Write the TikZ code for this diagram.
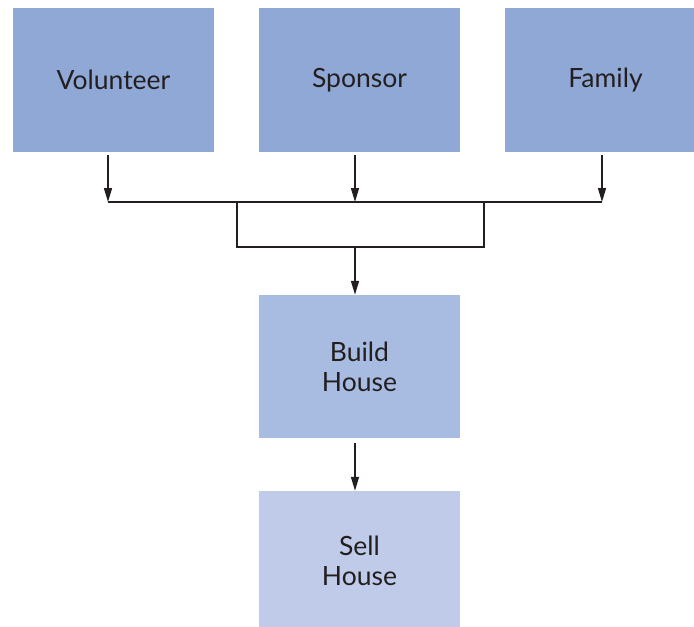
\documentclass[tikz,border=0pt]{standalone}
\usepackage{fontspec}
\setmainfont{Lato}
\usetikzlibrary{arrows.meta}
\definecolor{topblue}{HTML}{8FA8D6}
\definecolor{midblue}{HTML}{A8BCE2}
\definecolor{lowblue}{HTML}{BFCBE8}
\definecolor{ink}{HTML}{231F20}
\tikzset{
  box/.style={draw=none, rectangle, minimum width=201pt, inner sep=0pt, align=center,
    font=\fontsize{26.5}{30}\selectfont, text=ink},
  conn/.style={line width=1.5pt, draw=ink},
  arr/.style={conn, -{Triangle[length=14pt,width=8pt]}}
}
\begin{document}
\begin{tikzpicture}[x=1pt,y=-1pt]
\useasboundingbox (0,0) rectangle (694,627);
\clip (0,0) rectangle (694,627);
\node[box, fill=topblue, minimum height=144pt] (v) at (113.5,80) {\raisebox{1.5pt}{Volunteer}};
\node[box, fill=topblue, minimum height=144pt] (s) at (359.5,80) {\raisebox{1.5pt}{Sponsor}};
\node[box, fill=topblue, minimum height=144pt] (f) at (605.5,80) {\raisebox{1.5pt}{Family}};
\node[box, fill=midblue, minimum height=143pt] (b) at (359.5,366.5) {Build\\House};
\node[box, fill=lowblue, minimum height=140pt] (h) at (359.5,561) {Sell\\House};
\coordinate (jl) at (108,202);
\coordinate (jm) at (355,202);
\coordinate (jr) at (602,202);
\coordinate (ra) at (237,202);
\coordinate (rb) at (484,202);
\coordinate (rc) at (484,247);
\coordinate (rd) at (237,247);
\coordinate (re) at (355,247);
\draw[arr] ([xshift=-5.5pt,yshift=-3pt]v.south) -- (jl);
\draw[arr] ([xshift=-4.5pt,yshift=-3pt]s.south) -- (jm);
\draw[arr] ([xshift=-3.5pt,yshift=-3pt]f.south) -- (jr);
\draw[conn] (jl) -- (jr);
\draw[conn] (ra) -- (rd) -- (rc) -- (rb);
\draw[arr] (re) -- ([xshift=-4.5pt]b.north);
\draw[arr] ([xshift=-4.5pt,yshift=-5pt]b.south) -- ([xshift=-4.5pt]h.north);
\end{tikzpicture}
\end{document}
